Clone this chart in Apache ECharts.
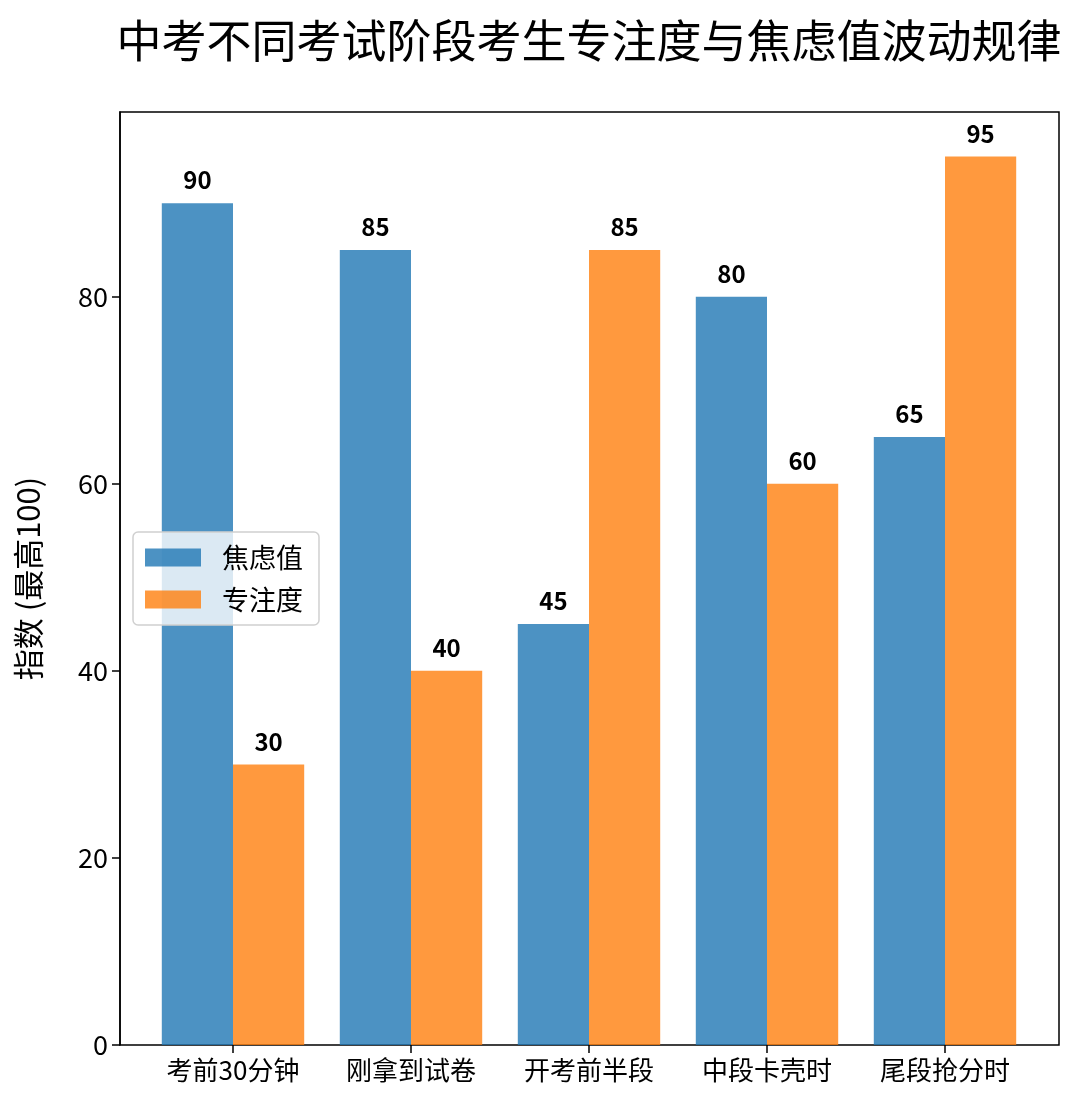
<!DOCTYPE html>
<html>
<head>
<meta charset="utf-8">
<script src="https://cdn.jsdelivr.net/npm/echarts@6/dist/echarts.min.js"></script>
<style>
  html, body { margin: 0; padding: 0; background: #fff; }
  #main { width: 1080px; height: 1114px; }
</style>
</head>
<body>
<div id="main"></div>
<script>
var stages = ['考前30分钟', '刚拿到试卷', '开考前半段', '中段卡壳时', '尾段抢分时'];
var anxiety = [90, 85, 45, 80, 65];     // 焦虑值
var focus = [30, 40, 85, 60, 95];       // 专注度
var yTicks = [0, 20, 40, 60, 80];

var font = 'Noto Sans CJK SC';
var myChart = echarts.init(document.getElementById('main'));

var option = {
    backgroundColor: '#fff',
    textStyle: { fontFamily: font },
    title: {
        text: '中考不同考试阶段考生专注度与焦虑值波动规律',
        left: 584,
        textAlign: 'center',
        top: 13,
        textStyle: { fontSize: 45, fontWeight: 'normal', color: '#000', fontFamily: font }
    },
    legend: {
        orient: 'vertical',
        left: 133,
        top: 532,
        itemWidth: 56,
        itemHeight: 18,
        itemGap: 15,
        padding: [12, 16, 12, 12],
        borderColor: '#d0d0d0',
        borderWidth: 1.5,
        borderRadius: 5,
        backgroundColor: 'rgba(255,255,255,0.8)',
        icon: 'rect',
        textStyle: { fontSize: 27, color: '#000', padding: [0, 0, 0, 16] },
        data: ['焦虑值', '专注度']
    },
    grid: [
        // frame of the plot area
        { left: 120, top: 112, width: 939, height: 933, show: true, borderColor: '#000', borderWidth: 1.5, backgroundColor: 'transparent' },
        // bars, categories centred inside the frame
        { left: 144, top: 112, width: 890, height: 933 }
    ],
    xAxis: [
        { type: 'value', gridIndex: 0, min: 0, max: 1, show: false },
        {
            type: 'category',
            gridIndex: 1,
            data: stages,
            axisLine: { show: false },
            axisTick: { show: true, alignWithLabel: true, length: 8, lineStyle: { color: '#000', width: 1.5 } },
            axisLabel: { fontSize: 26, color: '#000', margin: 12 }
        }
    ],
    yAxis: [
        {
            type: 'value',
            gridIndex: 0,
            min: 0,
            max: 99.75,
            name: '指数 (最高100)',
            nameLocation: 'middle',
            nameRotate: 90,
            nameGap: 76,
            nameTextStyle: { fontSize: 31, color: '#000' },
            axisLine: { show: true, lineStyle: { color: '#000', width: 1.5 } },
            axisTick: { show: true, length: 8, customValues: yTicks, lineStyle: { color: '#000', width: 1.5 } },
            axisLabel: { fontSize: 27, color: '#000', margin: 12, customValues: yTicks },
            splitLine: { show: false }
        },
        { type: 'value', gridIndex: 1, min: 0, max: 99.75, show: false }
    ],
    series: [
        {
            name: '焦虑值',
            type: 'bar',
            xAxisIndex: 1,
            yAxisIndex: 1,
            barWidth: '40%',
            barGap: '0%',
            itemStyle: { color: 'rgba(31,119,180,0.8)' },
            label: { show: true, position: 'top', distance: 11, fontSize: 24, fontWeight: 'bold', color: '#000' },
            data: anxiety
        },
        {
            name: '专注度',
            type: 'bar',
            xAxisIndex: 1,
            yAxisIndex: 1,
            barWidth: '40%',
            barGap: '0%',
            itemStyle: { color: 'rgba(255,127,14,0.8)' },
            label: { show: true, position: 'top', distance: 11, fontSize: 24, fontWeight: 'bold', color: '#000' },
            data: focus
        }
    ]
};
myChart.setOption(option);
</script>
</body>
</html>
